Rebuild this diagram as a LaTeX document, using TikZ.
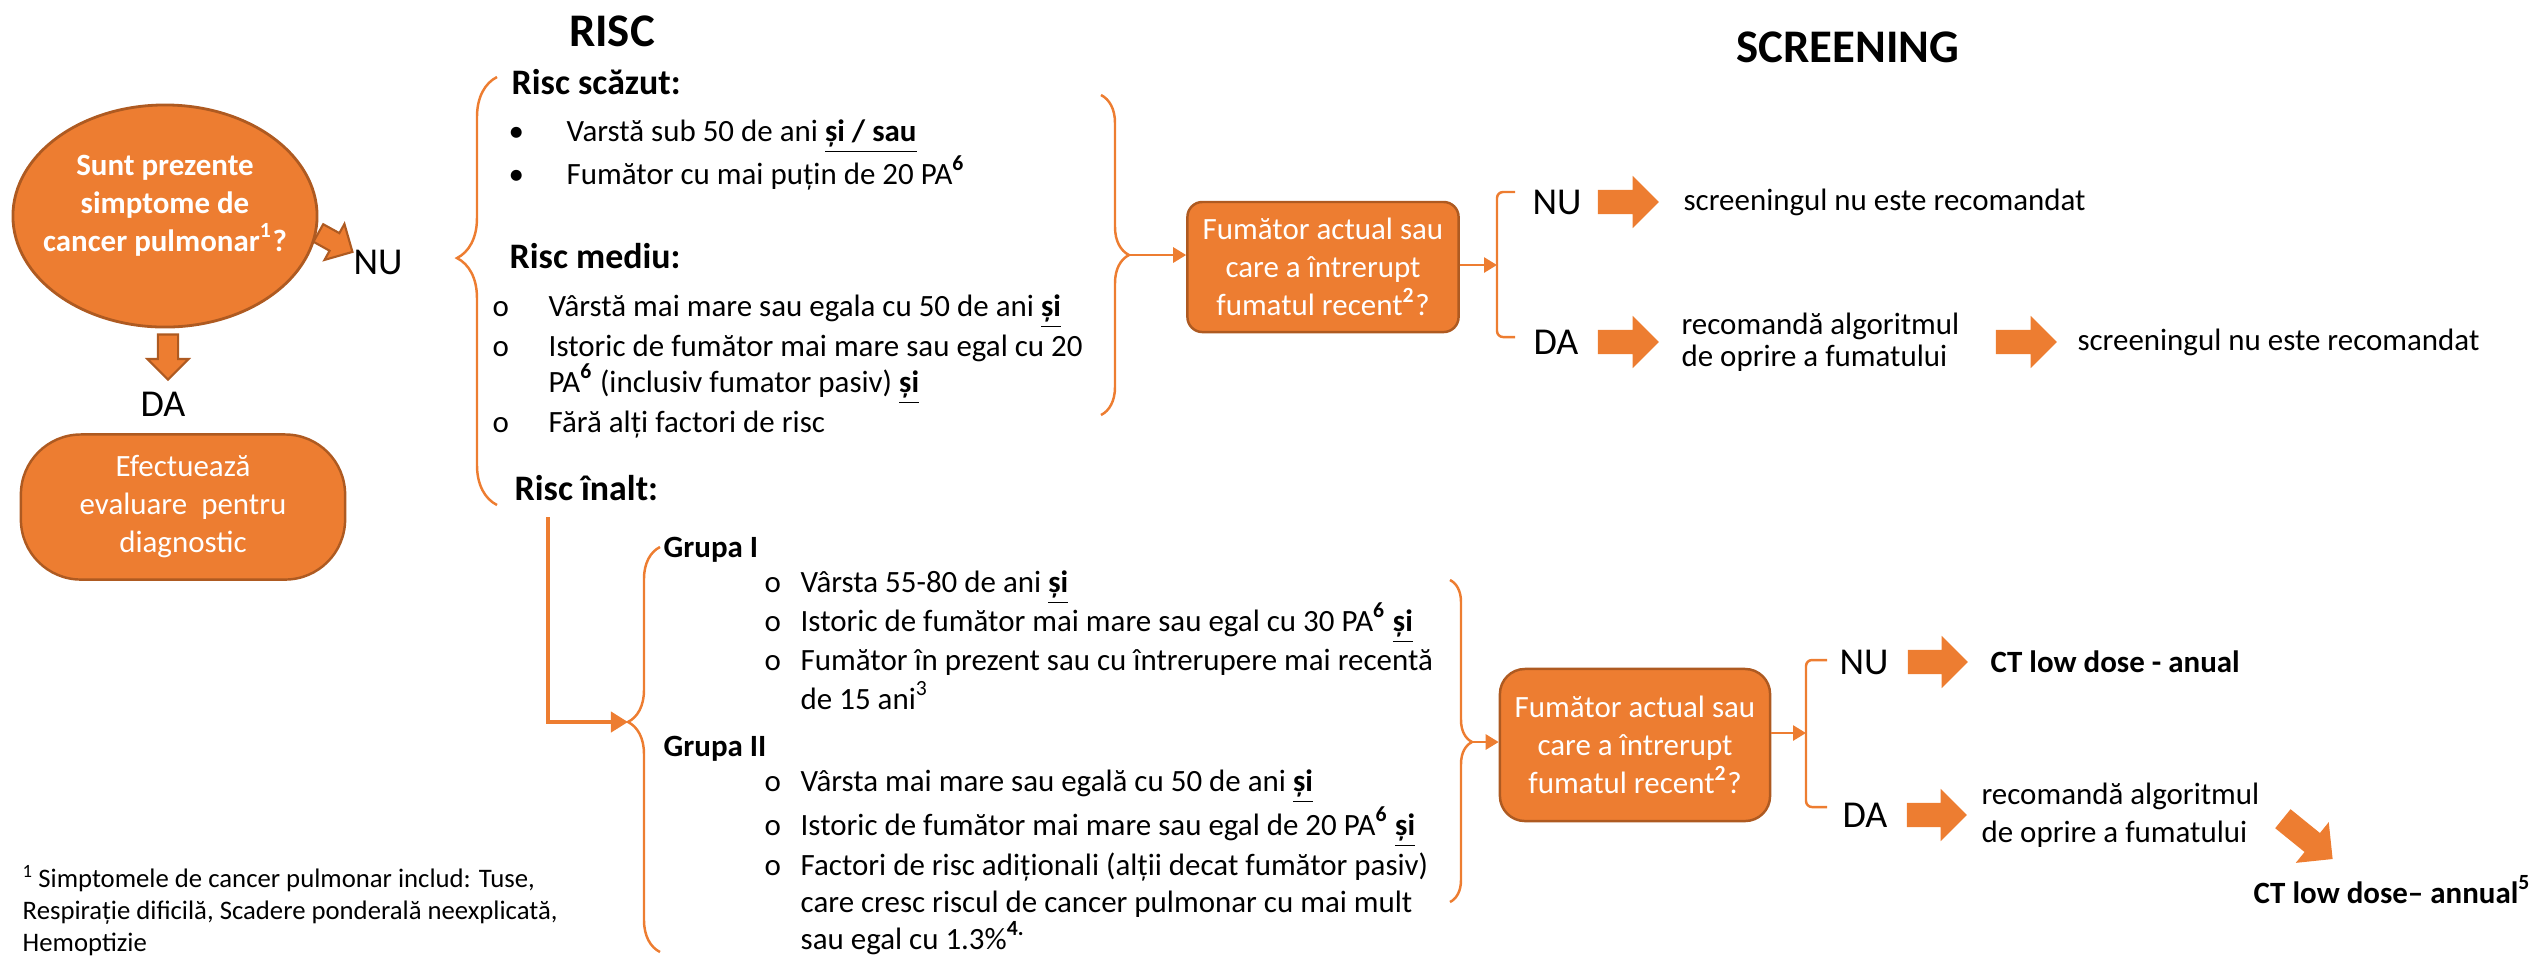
\documentclass[tikz,border=0pt]{standalone}
\usepackage{fontspec}
\setmainfont{Carlito}
\usepackage{tikz}
\usetikzlibrary{arrows.meta,positioning,shapes.geometric,shapes.arrows,decorations.pathreplacing}
\definecolor{acc}{HTML}{ED7D31}
\definecolor{accdark}{HTML}{AE5A21}

\begin{document}
\begin{tikzpicture}[x=0.01cm, y=-0.01cm, >={Triangle[length=1.3mm,width=1.5mm]}]
		\tikzstyle{body}=[inner sep=0pt, anchor=base west, font=\fontsize{8.8}{10.8}\selectfont]
		\tikzstyle{head}=[inner sep=0pt, anchor=base west, font=\fontsize{10.2}{12}\selectfont\bfseries]
		\tikzstyle{title}=[inner sep=0pt, font=\fontsize{13.3}{16}\selectfont\bfseries]
		\tikzstyle{answer}=[inner sep=0pt, font=\fontsize{10.8}{13}\selectfont]
		\tikzstyle{question}=[rectangle, fill=acc, draw=accdark, line width=0.7pt, text=white, align=center, font=\fontsize{8.8}{10.8}\selectfont]
		\tikzstyle{fat}=[single arrow, fill=acc, inner sep=0pt, inner ysep=1.15mm, single arrow head extend=1.4mm, single arrow head indent=0pt]
		\tikzstyle{fatb}=[single arrow, fill=acc, draw=accdark, line width=0.6pt, inner sep=0pt, inner ysep=0.9mm, single arrow head extend=1.05mm, single arrow head indent=0pt]
		\tikzstyle{connect}=[->, acc, line width=0.8pt]
		\tikzstyle{bracket}=[acc, line width=0.7pt, decorate]
		\useasboundingbox (0,0) rectangle (2544,956);
		% titles
		\node[title] (risc) at (612,31) {RISC};
		\node[title] (screen) at (1848,47) {SCREENING};
		% symptoms
		\node[fatb, rotate=-29, minimum height=3.9mm] (nuarr0) at (331,240) {};
		\node[fatb, rotate=-90, minimum height=4.5mm] (daarr0) at (168,352) {};
		\node[ellipse, fill=acc, draw=accdark, line width=0.8pt, minimum width=3.04cm, minimum height=2.22cm, inner sep=-1cm, text=white, align=center, font=\fontsize{8.8}{10.8}\selectfont\bfseries] (symp) at (165,216) {Sunt prezente\\simptome de\\cancer pulmonar\textsuperscript{1}?\\[-3.5pt]\mbox{}};
		\node[answer] (nu0) at (378,262) {NU};
		\node[answer] (da0) at (163,404) {DA};
		\node[question, rounded corners=0.6cm, minimum width=3.24cm, minimum height=1.45cm] (diag) at (183,507) {Efectuează\\evaluare \ pentru\\diagnostic};
		% risc
		\node[head] (low) at (511,94) {Risc scăzut:};
		\node[body] (low1) at (508,141) {\makebox[5.8mm][l]{\textbullet}Varstă sub 50 de ani \underline{\textbf{și / sau}}};
		\node[body] (low2) at (508,184) {\makebox[5.8mm][l]{\textbullet}Fumător cu mai puțin de 20 PA\textsuperscript{\textbf{6}}};
		\node[head] (mid) at (509,268) {Risc mediu:};
		\node[body] (mid1) at (492,316) {\makebox[5.6mm][l]{o}Vârstă mai mare sau egala cu 50 de ani \underline{\textbf{și}}};
		\node[body] (mid2) at (492,356) {\makebox[5.6mm][l]{o}Istoric de fumător mai mare sau egal cu 20};
		\node[body] (mid2b) at (548,392) {PA\textsuperscript{\textbf{6}} (inclusiv fumator pasiv) \underline{\textbf{și}}};
		\node[body] (mid3) at (492,432) {\makebox[5.6mm][l]{o}Fără alți factori de risc};
		\node[head] (high) at (514,500) {Risc înalt:};
		\node[body, font=\fontsize{8.8}{10.8}\selectfont\bfseries] (g1) at (663,557) {Grupa I};
		\node[body] (g1a) at (764,592) {\makebox[3.6mm][l]{o}Vârsta 55-80 de ani \underline{\textbf{și}}};
		\node[body] (g1b) at (764,631) {\makebox[3.6mm][l]{o}Istoric de fumător mai mare sau egal cu 30 PA\textsuperscript{\textbf{6}} \underline{\textbf{și}}};
		\node[body] (g1c) at (764,670) {\makebox[3.6mm][l]{o}Fumător în prezent sau cu întrerupere mai recentă};
		\node[body] (g1d) at (800,709) {de 15 ani\textsuperscript{3}};
		\node[body, font=\fontsize{8.8}{10.8}\selectfont\bfseries] (g2) at (663,756) {Grupa II};
		\node[body] (g2a) at (764,791) {\makebox[3.6mm][l]{o}Vârsta mai mare sau egală cu 50 de ani \underline{\textbf{și}}};
		\node[body] (g2b) at (764,835) {\makebox[3.6mm][l]{o}Istoric de fumător mai mare sau egal de 20 PA\textsuperscript{\textbf{6}} \underline{\textbf{și}}};
		\node[body] (g2c) at (764,875) {\makebox[3.6mm][l]{o}Factori de risc adiționali (alții decat fumător pasiv)};
		\node[body] (g2d) at (800,912) {care cresc riscul de cancer pulmonar cu mai mult};
		\node[body] (g2e) at (800,949) {sau egal cu 1.3\%\textsuperscript{\textbf{4.}}};
		% braces
		\draw[bracket, decoration={brace, amplitude=0.4cm, aspect=0.577}] (497,505) -- (497,77);
		\draw[bracket, decoration={brace, amplitude=0.28cm, aspect=0.5}] (1101,95) -- (1101,415);
		\draw[bracket, decoration={brace, amplitude=0.32cm, aspect=0.568}] (660,952) -- (660,547);
		\draw[bracket, decoration={brace, amplitude=0.22cm, aspect=0.503}] (1450,580) -- (1450,902);
		\coordinate (lowtip) at (1129,255);
		\coordinate (gtip) at (628,722);
		\coordinate (hightip) at (1472,742);
		\coordinate (hstart) at (548,517);
		% screening, upper
		\node[question, rounded corners=1.5mm, minimum width=2.71cm, minimum height=1.30cm] (q1) at (1323,267) {Fumător actual sau\\care a întrerupt\\fumatul recent\textsuperscript{\textbf{2}}?};
		\draw[acc, line width=0.7pt, rounded corners=0.6mm] (1515,192) -- (1497,192) -- (1497,337) -- (1515,337);
		\coordinate (br1) at (1497,265);
		\node[answer] (nu1) at (1557,202) {NU};
		\node[answer] (da1) at (1556,342) {DA};
		\node[fat, minimum height=6.1mm, right=1.5mm of nu1] (nuarr1) {};
		\node[fat, minimum height=6.1mm, right=1.8mm of da1] (daarr1) {};
		\node[body, right=2.3mm of nuarr1] (no1) {screeningul nu este recomandat};
		\node[body, align=left, font=\fontsize{8.8}{9.1}\selectfont, right=2.1mm of daarr1] (rec1) {recomandă algoritmul\\de oprire a fumatului};
		\node[fat, minimum height=6.1mm, right=3.5mm of rec1] (stoparr1) {};
		\node[body, right=1.9mm of stoparr1] (no2) {screeningul nu este recomandat};
		% screening, lower
		\node[question, rounded corners=2.5mm, minimum width=2.70cm, minimum height=1.52cm] (q2) at (1635,745) {Fumător actual sau\\care a întrerupt\\fumatul recent\textsuperscript{\textbf{2}}?};
		\draw[acc, line width=0.7pt, rounded corners=0.6mm] (1827,660) -- (1806,660) -- (1806,807) -- (1827,807);
		\coordinate (br2) at (1806,733);
		\node[answer] (nu2) at (1864,662) {NU};
		\node[answer] (da2) at (1865,815) {DA};
		\node[fat, minimum height=6.0mm, right=1.8mm of nu2] (nuarr2) {};
		\node[fat, minimum height=6.0mm, right=1.8mm of da2] (daarr2) {};
		\node[body, font=\fontsize{8.8}{10.8}\selectfont\bfseries, right=2.1mm of nuarr2] (ct1) {CT low dose - anual};
		\node[body, align=left, right=1.3mm of daarr2] (rec2) {recomandă algoritmul\\de oprire a fumatului};
		\node[fat, rotate=-39, minimum height=6.4mm] (stoparr2) at (2303,835) {};
		\node[body, font=\fontsize{8.8}{10.8}\selectfont\bfseries] (ct2) at (2253,903) {CT low dose– annual\textsuperscript{5}};
		% footnote
		\node[inner sep=0pt, anchor=north west, align=left, font=\fontsize{7.6}{9.1}\selectfont] (note) at (22,865) {\textsuperscript{1}\,Simptomele de cancer pulmonar includ: Tuse,\\Respirație dificilă, Scadere ponderală neexplicată,\\Hemoptizie};
		% connectors
		\draw[connect] (lowtip) -- (lowtip -| q1.west);
		\draw[connect] (q1.east |- br1) -- (br1);
		\draw[connect, line width=1.1pt, >={Triangle[length=1.7mm,width=2mm]}] (hstart) |- (gtip);
		\draw[connect] (hightip) -- (hightip -| q2.west);
		\draw[connect] (q2.east |- br2) -- (br2);
\end{tikzpicture}
\end{document}
